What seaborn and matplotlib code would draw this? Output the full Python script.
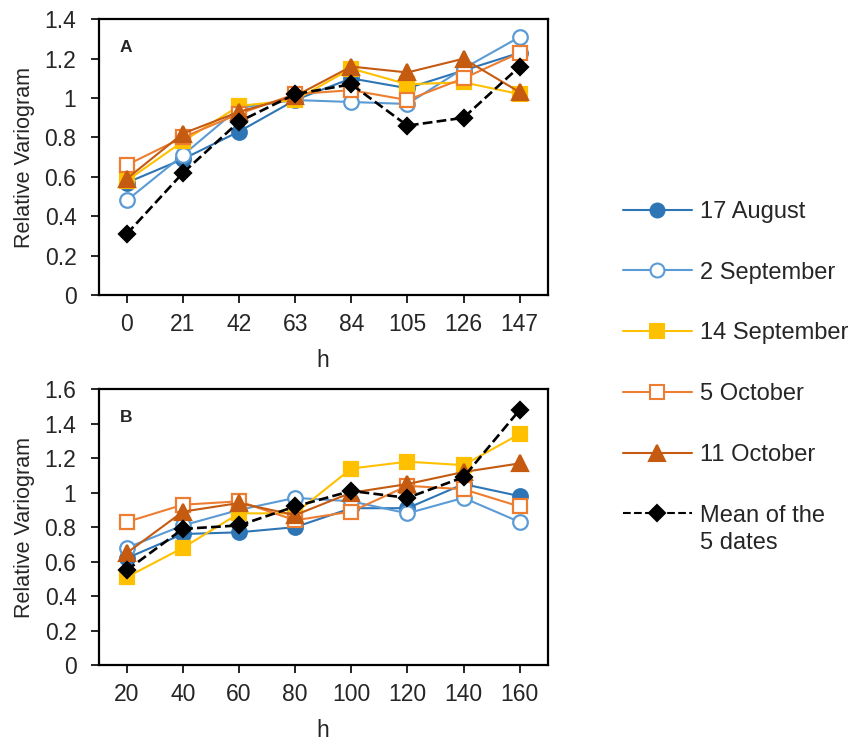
import numpy as np
import pandas as pd
import matplotlib
matplotlib.use("Agg")
import matplotlib.pyplot as plt
import seaborn as sns
from matplotlib.lines import Line2D

# ---------------- data ----------------
series_names = ["17 August", "2 September", "14 September", "5 October",
                "11 October", "Mean of the"]
mean_label_line2 = "5 dates"

h_a = ["0", "21", "42", "63", "84", "105", "126", "147"]
a_17aug = [0.57, 0.69, 0.83, 0.99, 1.10, 1.05, 1.14, 1.23]
a_2sep = [0.48, 0.71, 0.95, 0.99, 0.98, 0.97, 1.15, 1.31]
a_14sep = [0.58, 0.78, 0.96, 0.99, 1.15, 1.07, 1.08, 1.02]
a_5oct = [0.66, 0.80, 0.92, 1.02, 1.04, 0.99, 1.10, 1.23]
a_11oct = [0.59, 0.82, 0.93, 1.01, 1.16, 1.13, 1.20, 1.03]
a_mean = [0.31, 0.62, 0.88, 1.02, 1.07, 0.86, 0.90, 1.16]

h_b = ["20", "40", "60", "80", "100", "120", "140", "160"]
b_17aug = [0.62, 0.76, 0.77, 0.80, 0.91, 0.91, 1.05, 0.98]
b_2sep = [0.68, 0.81, 0.90, 0.97, 0.95, 0.88, 0.97, 0.83]
b_14sep = [0.51, 0.68, 0.88, 0.88, 1.14, 1.18, 1.16, 1.34]
b_5oct = [0.83, 0.93, 0.95, 0.84, 0.89, 1.04, 1.02, 0.92]
b_11oct = [0.65, 0.89, 0.94, 0.87, 1.00, 1.05, 1.12, 1.17]
b_mean = [0.55, 0.79, 0.81, 0.92, 1.01, 0.97, 1.09, 1.48]

colors = ["#2E75B6", "#5B9BD5", "#FFC000", "#ED7D31", "#C55A11", "#000000"]
markers = ["o", "o", "s", "s", "^", "D"]
filled = [True, False, True, False, True, True]
dashes = ["-", "-", "-", "-", "-", "--"]
msizes = [10.5, 10.5, 10, 10, 11.5, 8.5]

# ---------------- figure ----------------
sns.set_theme(style="white")
plt.rcParams["font.family"] = ["Liberation Sans", "DejaVu Sans"]
txt = "#262626"

fig = plt.figure(figsize=(8.54, 7.45), dpi=100)
axA = fig.add_axes([98.7 / 854, 1 - 295 / 745, 449 / 854, 275.7 / 745])
axB = fig.add_axes([98.7 / 854, 1 - 665 / 745, 449 / 854, 275.7 / 745])


def draw(ax, cats, data, ymax, letter):
    for i, vals in enumerate(data):
        df = pd.DataFrame({"x": np.arange(len(cats)), "y": vals})
        sns.lineplot(data=df, x="x", y="y", ax=ax, color=colors[i],
                     linestyle=dashes[i], linewidth=1.5 if i < 5 else 1.9,
                     marker=markers[i], markersize=msizes[i],
                     markerfacecolor=colors[i] if filled[i] else "white",
                     markeredgecolor=colors[i], markeredgewidth=1.6,
                     zorder=3 + i)
    ax.set_xlim(-0.5, len(cats) - 0.5)
    ax.set_ylim(0, ymax)
    ax.set_xticks(np.arange(len(cats)))
    ax.set_xticklabels(cats)
    yt = np.arange(0, ymax + 0.001, 0.2)
    ax.set_yticks(yt)
    ax.set_yticklabels([("%g" % round(v, 1)) for v in yt])
    ax.tick_params(axis="both", which="major", direction="out", length=6,
                   width=1.2, color="black", labelsize=16.5, labelcolor=txt,
                   bottom=True, left=True)
    ax.tick_params(axis="x", pad=7)
    ax.tick_params(axis="y", pad=10)
    for s in ax.spines.values():
        s.set_color("black")
        s.set_linewidth(1.6)
    ax.set_xlabel("h", fontsize=16.5, color=txt, labelpad=9)
    ax.set_ylabel("Relative Variogram", fontsize=15.5, color=txt, labelpad=7)
    ax.text(0.047, 0.896, letter, transform=ax.transAxes, fontsize=12.5,
            fontweight="bold", color=txt, va="center", ha="left")


draw(axA, h_a, [a_17aug, a_2sep, a_14sep, a_5oct, a_11oct, a_mean], 1.4, "A")
draw(axB, h_b, [b_17aug, b_2sep, b_14sep, b_5oct, b_11oct, b_mean], 1.6, "B")

handles = []
for i in range(6):
    handles.append(Line2D([], [], color=colors[i], linestyle=dashes[i],
                          linewidth=1.5, marker=markers[i],
                          markersize=msizes[i] - 0.5,
                          markerfacecolor=colors[i] if filled[i] else "white",
                          markeredgecolor=colors[i], markeredgewidth=1.5))
leg = fig.legend(handles, series_names, loc="upper left",
                 bbox_to_anchor=(623 / 854, 1 - 201 / 745), frameon=False,
                 fontsize=17, handlelength=2.92, handletextpad=0.34,
                 labelspacing=1.64, labelcolor=txt, borderpad=0,
                 borderaxespad=0)

fig.canvas.draw()
last = leg.get_texts()[-1]
bb = last.get_window_extent()
x0, y0 = fig.transFigure.inverted().transform((bb.x0, bb.y0))
fig.text(x0, y0 - 5 / 745, mean_label_line2, fontsize=17, color=txt,
         ha="left", va="top")

fig.savefig("out.png", dpi=100)
